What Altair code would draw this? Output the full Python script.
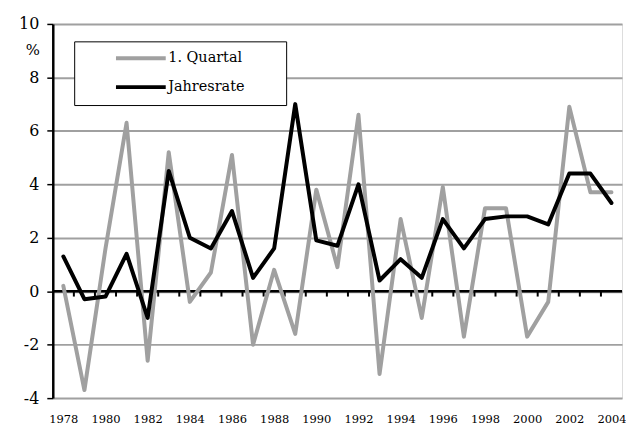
import altair as alt
import pandas as pd

years = list(range(1978, 2005))
quartal = [0.2, -3.7, 1.6, 6.3, -2.6, 5.2, -0.4, 0.7, 5.1, -2.0, 0.8, -1.6, 3.8, 0.9,
           6.6, -3.1, 2.7, -1.0, 3.9, -1.7, 3.1, 3.1, -1.7, -0.4, 6.9, 3.7, 3.7]
jahresrate = [1.3, -0.3, -0.2, 1.4, -1.0, 4.5, 2.0, 1.6, 3.0, 0.5, 1.6, 7.0, 1.9, 1.7,
              4.0, 0.4, 1.2, 0.5, 2.7, 1.6, 2.7, 2.8, 2.8, 2.5, 4.4, 4.4, 3.3]
series_names = ["1. Quartal", "Jahresrate"]
series_colors = ["#a0a0a0", "#000000"]
y_ticks = [-4, -2, 0, 2, 4, 6, 8, 10]
x_label_years = list(range(1978, 2005, 2))
boundary_years = [y + 0.5 for y in range(1978, 2004)]

df = pd.DataFrame({
    "Jahr": years * 2,
    "Wert": quartal + jahresrate,
    "Reihe": [series_names[0]] * len(years) + [series_names[1]] * len(years),
})
ticks_df = pd.DataFrame({"b": boundary_years})

FONT = "DejaVu Serif"

x_scale = alt.Scale(domain=[1977.5, 2004.5], nice=False, zero=False)
y_scale = alt.Scale(domain=[-4, 10], nice=False)

lines = alt.Chart(df).mark_line(strokeWidth=4, strokeJoin="round", strokeCap="round").encode(
    x=alt.X("Jahr:Q", scale=x_scale,
            axis=alt.Axis(values=x_label_years, format="d", title=None, grid=False,
                          domain=False, ticks=False, labelFont=FONT, labelFontSize=11.5,
                          labelPadding=15, labelColor="#000", labelOverlap=False)),
    y=alt.Y("Wert:Q", scale=y_scale,
            axis=alt.Axis(values=y_ticks, title=None, grid=True, gridColor="#a0a0a0",
                          gridWidth=2, domainColor="#000", domainWidth=2.5,
                          tickColor="#000", tickSize=6, tickWidth=1.5,
                          labelExpr="datum.value + ''",
                          labelFont=FONT, labelFontSize=16, labelPadding=8,
                          labelColor="#000")),
    color=alt.Color("Reihe:N", sort=series_names,
                    scale=alt.Scale(domain=series_names, range=series_colors),
                    legend=alt.Legend(title=None, orient="none", legendX=74, legendY=20,
                                      symbolType="M-2,0H2", symbolSize=625,
                                      symbolStrokeWidth=4, labelFont=FONT,
                                      labelFontSize=14.5, labelColor="#000",
                                      labelOffset=13, rowPadding=6, padding=0)),
    detail="Reihe:N",
)

zero_rule = alt.Chart(pd.DataFrame({"y": [0]})).mark_rule(color="#000", strokeWidth=2.5).encode(
    y=alt.Y("y:Q", scale=y_scale)
)

zero_ticks = alt.Chart(ticks_df).mark_rule(color="#000", strokeWidth=2).encode(
    x=alt.X("b:Q", scale=x_scale),
    y=alt.datum(0, scale=y_scale),
    y2=alt.datum(-0.2),
)

legend_box = alt.Chart(pd.DataFrame({"a": [0]})).mark_rect(
    fill="white", stroke="#000", strokeWidth=1
).encode(x=alt.value(22), x2=alt.value(235), y=alt.value(18), y2=alt.value(82))

pct = alt.Chart(pd.DataFrame({"t": ["%"]})).mark_text(
    font=FONT, fontSize=15, color="#000", align="center", baseline="middle"
).encode(text="t:N", x=alt.value(-20), y=alt.value(26))

chart = alt.layer(zero_rule, zero_ticks, lines, legend_box, pct).properties(
    width=572, height=376,
    autosize=alt.AutoSizeParams(type="none"),
    padding={"left": 45, "top": 15, "right": 4, "bottom": 27},
).configure_view(stroke="#000", strokeWidth=2).configure(background="white")

chart.save("out.html", embed_options={"renderer": "svg", "actions": False})
